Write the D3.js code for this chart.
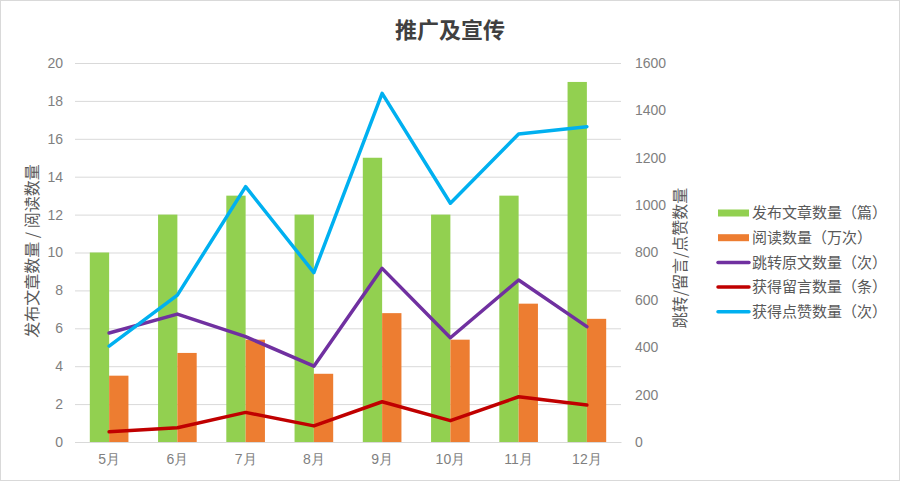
<!DOCTYPE html>
<html><head><meta charset="utf-8">
<script src="https://cdn.jsdelivr.net/npm/d3@7/dist/d3.min.js"></script>
<style>
body{margin:0;background:#fff;}
svg{display:block;font-family:"Noto Sans CJK SC","Noto Sans",sans-serif;}
</style></head>
<body><svg id="chart" width="900" height="481"></svg>
<script>
const months = ["5月","6月","7月","8月","9月","10月","11月","12月"];
const articles = [10,12,13,12,15,12,13,19];
const reads = [3.5,4.7,5.4,3.6,6.8,5.4,7.3,6.5];
const jumps = [460,540,445,320,733,440,684,487];
const comments = [43,60,125,68,170,90,191,156];
const likes = [405,620,1078,715,1472,1008,1300,1331];
const leftTicks = [0,2,4,6,8,10,12,14,16,18,20];
const rightTicks = [0,200,400,600,800,1000,1200,1400,1600];

const barSeries = [
  {name:"发布文章数量（篇）", values:articles, color:"#92d050"},
  {name:"阅读数量（万次）", values:reads, color:"#ed7d31"}
];
const lineSeries = [
  {name:"跳转原文数量（次）", values:jumps, color:"#7030a0"},
  {name:"获得留言数量（条）", values:comments, color:"#c00000"},
  {name:"获得点赞数量（次）", values:likes, color:"#00b0f0"}
];

const svg = d3.select("#chart");
const W=900,H=481;
const m={left:75,right:279,top:63,bottom:39};
const x0 = m.left, x1 = W-m.right, y0 = H-m.bottom, y1 = m.top;

svg.append("rect").attr("x",0.5).attr("y",0.5).attr("width",W-1).attr("height",H-1)
  .attr("fill","#fff").attr("stroke","#d9d9d9");

const x = d3.scaleBand().domain(months).range([x0,x1]).paddingInner(0).paddingOuter(0);
const yL = d3.scaleLinear().domain([0,20]).range([y0,y1]);
const yR = d3.scaleLinear().domain([0,1600]).range([y0,y1]);

// gridlines
svg.append("g").selectAll("line").data(leftTicks).join("line")
  .attr("x1",x0).attr("x2",x1).attr("y1",d=>yL(d)+0.5).attr("y2",d=>yL(d)+0.5)
  .attr("stroke","#d9d9d9").attr("stroke-width",1);

// left axis
const axL = svg.append("g").attr("transform",`translate(${x0},0)`)
  .call(d3.axisLeft(yL).tickValues(leftTicks).tickSize(0).tickPadding(12).tickFormat(d3.format("d")));
axL.select(".domain").remove();
axL.selectAll("text").attr("fill","#7f7f7f").style("font-size","14px").style("font-family","Liberation Sans, Arial, sans-serif");

// right axis
const axR = svg.append("g").attr("transform",`translate(${x1},0)`)
  .call(d3.axisRight(yR).tickValues(rightTicks).tickSize(0).tickPadding(14).tickFormat(d3.format("d")));
axR.select(".domain").remove();
axR.selectAll("text").attr("fill","#7f7f7f").style("font-size","14px").style("font-family","Liberation Sans, Arial, sans-serif");

// bottom axis
const axB = svg.append("g").attr("transform",`translate(0,${y0})`)
  .call(d3.axisBottom(x).tickSize(0).tickPadding(12));
axB.select(".domain").attr("stroke","#d9d9d9");
axB.selectAll("text").attr("fill","#7f7f7f").style("font-size","14px");

// bars
const bw = x.bandwidth()*0.283;
barSeries.forEach((s,i)=>{
  svg.append("g").selectAll("rect").data(s.values).join("rect")
    .attr("x",(d,j)=>x(months[j])+x.bandwidth()/2 - bw + i*bw)
    .attr("width",bw)
    .attr("y",d=>yL(d))
    .attr("height",d=>y0-yL(d))
    .attr("fill",s.color);
});

// lines
const line = d3.line().x((d,j)=>x(months[j])+x.bandwidth()/2).y(d=>yR(d));
lineSeries.forEach(s=>{
  svg.append("path").datum(s.values).attr("d",line)
    .attr("fill","none").attr("stroke",s.color).attr("stroke-width",3.5)
    .attr("stroke-linejoin","round").attr("stroke-linecap","round");
});

// title
svg.append("text").attr("x",450).attr("y",38).attr("text-anchor","middle")
  .attr("fill","#404040").style("font-size","22px").style("font-weight","bold").text("推广及宣传");

// axis titles
svg.append("text").attr("transform","translate(38,251) rotate(-90)").attr("text-anchor","middle")
  .attr("fill","#595959").style("font-size","16px").text("发布文章数量 / 阅读数量");
svg.append("text").attr("transform","translate(686,258) rotate(-90)").attr("text-anchor","middle")
  .attr("fill","#595959").style("font-size","16px").text("跳转/留言/点赞数量");

// legend
const allS = barSeries.map(s=>({...s,type:"bar"})).concat(lineSeries.map(s=>({...s,type:"line"})));
const lg = svg.append("g").attr("transform","translate(718,213)");
allS.forEach((s,i)=>{
  const g = lg.append("g").attr("transform",`translate(0,${i*24.7})`);
  if(s.type==="bar"){
    g.append("rect").attr("x",0).attr("y",-3.5).attr("width",31).attr("height",7).attr("fill",s.color);
  } else {
    g.append("line").attr("x1",0).attr("x2",31).attr("y1",0).attr("y2",0)
      .attr("stroke",s.color).attr("stroke-width",3.5).attr("stroke-linecap","round");
  }
  g.append("text").attr("x",34).attr("y",0).attr("dy","0.35em").attr("fill","#595959")
    .style("font-size","15px").text(s.name);
});
</script></body></html>
